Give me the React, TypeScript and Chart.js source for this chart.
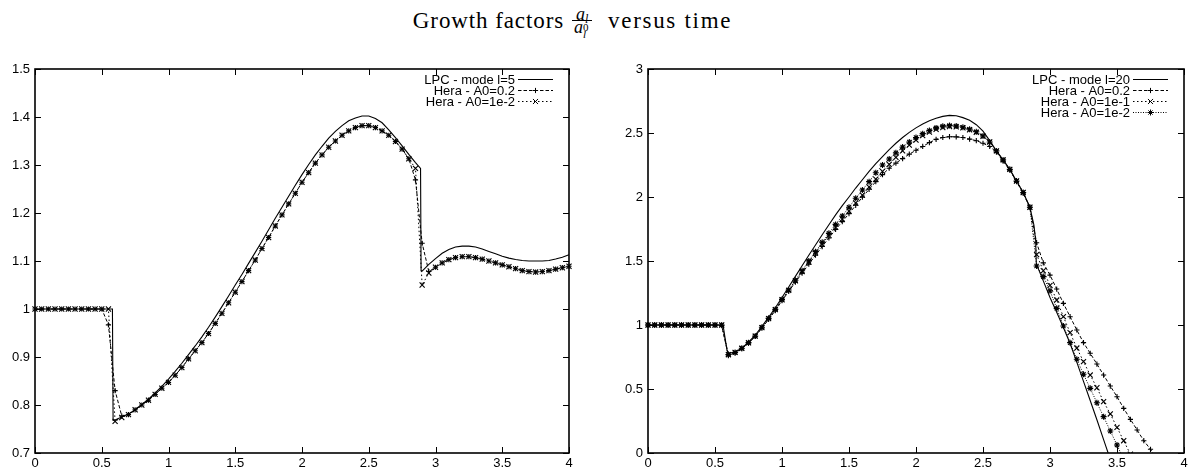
import React, { useEffect, useRef } from "react";
import { Chart, registerables } from "chart.js";

Chart.register(...registerables);

// ---------- data ----------
// common time grid of the Hera samples
const heraT = [
  0, 0.05, 0.1, 0.15, 0.2, 0.25, 0.3, 0.35, 0.4, 0.45, 0.5, 0.55, 0.6, 0.65, 0.7, 0.75, 0.8, 0.85, 0.9, 0.95,
  1, 1.05, 1.1, 1.15, 1.2, 1.25, 1.3, 1.35, 1.4, 1.45, 1.5, 1.55, 1.6, 1.65, 1.7, 1.75, 1.8, 1.85, 1.9, 1.95,
  2, 2.05, 2.1, 2.15, 2.2, 2.25, 2.3, 2.35, 2.4, 2.45, 2.5, 2.55, 2.6, 2.65, 2.7, 2.75, 2.8, 2.85, 2.9, 2.95,
  3, 3.05, 3.1, 3.15, 3.2, 3.25, 3.3, 3.35, 3.4, 3.45, 3.5, 3.55, 3.6, 3.65, 3.7, 3.75, 3.8, 3.85, 3.9, 3.95, 4,
];

// left panel: mode l=5
const leftLpcT = [
  0, 0.58, 0.585, 0.6, 0.65, 0.7, 0.75, 0.8, 0.85, 0.9, 0.95,
  1, 1.05, 1.1, 1.15, 1.2, 1.25, 1.3, 1.35, 1.4, 1.45, 1.5, 1.55, 1.6, 1.65, 1.7, 1.75, 1.8, 1.85, 1.9, 1.95,
  2, 2.05, 2.1, 2.15, 2.2, 2.25, 2.3, 2.35, 2.4, 2.45, 2.5, 2.55, 2.6, 2.65, 2.7, 2.75, 2.8, 2.85, 2.888, 2.892, 2.9, 2.95,
  3, 3.05, 3.1, 3.15, 3.2, 3.25, 3.3, 3.35, 3.4, 3.45, 3.5, 3.55, 3.6, 3.65, 3.7, 3.75, 3.8, 3.85, 3.9, 3.95, 4,
];
const leftLpcY = [
  1, 1, 0.768, 0.769, 0.775, 0.781, 0.79, 0.801, 0.812, 0.825, 0.839,
  0.854, 0.87, 0.887, 0.905, 0.923, 0.942, 0.962, 0.983, 1.005, 1.027, 1.05, 1.072, 1.095, 1.118, 1.141, 1.165, 1.189, 1.212, 1.235, 1.258,
  1.28, 1.301, 1.321, 1.339, 1.356, 1.37, 1.382, 1.392, 1.398, 1.402, 1.402, 1.397, 1.388, 1.373, 1.357, 1.34, 1.322, 1.305, 1.293, 1.08, 1.079, 1.093,
  1.105, 1.116, 1.124, 1.129, 1.131, 1.131, 1.129, 1.125, 1.12, 1.115, 1.11, 1.106, 1.103, 1.101, 1.1, 1.1, 1.1, 1.101, 1.104, 1.108, 1.113,
];
const leftHera02 = [
  1, 1, 1, 1, 1, 1, 1, 1, 1, 1, 1, 0.967, 0.83, 0.777, 0.78, 0.79, 0.8, 0.81, 0.822, 0.835,
  0.847, 0.862, 0.878, 0.896, 0.913, 0.93, 0.949, 0.97, 0.991, 1.013, 1.035, 1.057, 1.08, 1.102, 1.126, 1.149, 1.173, 1.196, 1.219, 1.241,
  1.264, 1.284, 1.304, 1.321, 1.337, 1.35, 1.362, 1.371, 1.378, 1.382, 1.382, 1.378, 1.371, 1.362, 1.349, 1.333, 1.313, 1.269, 1.137, 1.078,
  1.087, 1.096, 1.103, 1.107, 1.109, 1.109, 1.107, 1.104, 1.1, 1.096, 1.092, 1.088, 1.084, 1.08, 1.078, 1.077, 1.078, 1.08, 1.083, 1.086, 1.089,
];
const leftHera1em2 = [
  1, 1, 1, 1, 1, 1, 1, 1, 1, 1, 1, 1, 0.766, 0.774, 0.78, 0.79, 0.8, 0.81, 0.822, 0.835,
  0.847, 0.862, 0.878, 0.896, 0.913, 0.93, 0.949, 0.97, 0.991, 1.013, 1.035, 1.057, 1.08, 1.102, 1.126, 1.149, 1.173, 1.196, 1.219, 1.241,
  1.264, 1.284, 1.304, 1.321, 1.337, 1.35, 1.362, 1.371, 1.378, 1.382, 1.382, 1.378, 1.371, 1.362, 1.349, 1.333, 1.313, 1.293, 1.05, 1.075,
  1.087, 1.096, 1.103, 1.107, 1.109, 1.109, 1.107, 1.104, 1.1, 1.096, 1.092, 1.088, 1.084, 1.08, 1.078, 1.077, 1.078, 1.08, 1.083, 1.086, 1.089,
];
const leftLabels = ["LPC - mode l=5", "Hera - A0=0.2", "Hera - A0=1e-2"];

// right panel: mode l=20
const rightLpcT = [
  0, 0.56, 0.575, 0.59, 0.6, 0.65, 0.7, 0.75, 0.8, 0.85, 0.9, 0.95,
  1, 1.05, 1.1, 1.15, 1.2, 1.25, 1.3, 1.35, 1.4, 1.45, 1.5, 1.55, 1.6, 1.65, 1.7, 1.75, 1.8, 1.85, 1.9, 1.95,
  2, 2.05, 2.1, 2.15, 2.2, 2.25, 2.3, 2.35, 2.4, 2.45, 2.5, 2.55, 2.6, 2.65, 2.7, 2.75, 2.8, 2.85, 2.88, 2.893, 2.898, 2.95,
  3, 3.05, 3.1, 3.15, 3.2, 3.25, 3.3, 3.35, 3.4, 3.45,
];
const rightLpcY = [
  1, 1, 0.9, 0.8, 0.78, 0.787, 0.82, 0.866, 0.92, 0.99, 1.06, 1.135,
  1.215, 1.297, 1.38, 1.463, 1.545, 1.625, 1.705, 1.783, 1.86, 1.932, 2.0, 2.07, 2.135, 2.2, 2.26, 2.315, 2.37, 2.42, 2.465, 2.505,
  2.54, 2.57, 2.595, 2.615, 2.63, 2.638, 2.635, 2.62, 2.6, 2.565, 2.515, 2.44, 2.36, 2.29, 2.216, 2.125, 2.035, 1.92, 1.78, 1.66, 1.477, 1.345,
  1.215, 1.1, 0.98, 0.855, 0.71, 0.56, 0.41, 0.26, 0.105, -0.05,
];
const rightHera02 = [
  1, 1, 1, 1, 1, 1, 1, 1, 1, 1, 1, 0.995, 0.76, 0.783, 0.815, 0.858, 0.91, 0.975, 1.043, 1.112,
  1.19, 1.262, 1.335, 1.405, 1.475, 1.545, 1.613, 1.68, 1.746, 1.808,
  1.87, 1.935, 1.998, 2.06, 2.12, 2.175, 2.225, 2.265, 2.3, 2.335,
  2.365, 2.395, 2.425, 2.45, 2.465, 2.471, 2.47, 2.465, 2.452, 2.44,
  2.42, 2.395, 2.35, 2.28, 2.21, 2.12, 2.03, 1.92, 1.643, 1.485,
  1.39, 1.281, 1.169, 1.065, 0.961, 0.862, 0.779, 0.695, 0.609, 0.523,
  0.44, 0.349, 0.263, 0.18, 0.096, 0.029, -0.05,
];
const rightHera1em1 = [
  1, 1, 1, 1, 1, 1, 1, 1, 1, 1, 1, 1, 0.768, 0.786, 0.818, 0.861, 0.913, 0.98, 1.05, 1.12,
  1.197, 1.27, 1.345, 1.418, 1.492, 1.563, 1.633, 1.7, 1.765, 1.828,
  1.89, 1.953, 2.015, 2.078, 2.14, 2.2, 2.255, 2.31, 2.36, 2.405,
  2.445, 2.48, 2.507, 2.528, 2.543, 2.55, 2.548, 2.54, 2.525, 2.505,
  2.475, 2.43, 2.36, 2.29, 2.216, 2.125, 2.035, 1.92, 1.55, 1.424,
  1.31, 1.195, 1.065, 0.94, 0.82, 0.714, 0.609, 0.51, 0.401, 0.305,
  0.2, 0.096, -0.01,
];
const rightHera1em2 = [
  1, 1, 1, 1, 1, 1, 1, 1, 1, 1, 1, 1, 0.77, 0.786, 0.818, 0.862, 0.914, 0.982, 1.052, 1.122,
  1.2, 1.273, 1.35, 1.424, 1.5, 1.573, 1.646, 1.716, 1.786, 1.852,
  1.92, 1.99, 2.055, 2.12, 2.19, 2.25, 2.297, 2.345, 2.39, 2.43,
  2.465, 2.495, 2.52, 2.54, 2.553, 2.558, 2.555, 2.545, 2.53, 2.51,
  2.477, 2.43, 2.36, 2.29, 2.216, 2.125, 2.035, 1.92, 1.461, 1.378,
  1.268, 1.13, 0.992, 0.862, 0.732, 0.615, 0.505, 0.393, 0.284, 0.172,
  0.0625, -0.05,
];
const rightLabels = ["LPC - mode l=20", "Hera - A0=0.2", "Hera - A0=1e-1", "Hera - A0=1e-2"];

const xTickStep = 0.5;
const leftYRange = [0.7, 1.5, 0.1];
const rightYRange = [0, 3, 0.5];

// ---------- helpers ----------
const SANS = '"Liberation Sans", Arial, Helvetica, sans-serif';

function zip(ts: number[], ys: number[]) {
  return ys.map((y, i) => ({ x: ts[i], y }));
}

function fmt(v: number | string) {
  return String(Number(Number(v).toFixed(3)));
}

function drawMarker(ctx: CanvasRenderingContext2D, style: string, x: number, y: number, r: number) {
  ctx.beginPath();
  if (style === "cross" || style === "star") {
    ctx.moveTo(x - r, y);
    ctx.lineTo(x + r, y);
    ctx.moveTo(x, y - r);
    ctx.lineTo(x, y + r);
  }
  if (style === "crossRot" || style === "star") {
    const d = r * Math.SQRT1_2;
    ctx.moveTo(x - d, y - d);
    ctx.lineTo(x + d, y + d);
    ctx.moveTo(x - d, y + d);
    ctx.lineTo(x + d, y - d);
  }
  ctx.stroke();
}

const framePlugin = {
  id: "gpFrame",
  afterDatasetsDraw(chart: any) {
    const { ctx, chartArea: a, scales } = chart;
    const tl = 6;
    ctx.save();
    ctx.setLineDash([]);
    ctx.strokeStyle = "#000";
    ctx.lineWidth = 1;
    ctx.beginPath();
    scales.x.ticks.forEach((t: any) => {
      const px = Math.round(scales.x.getPixelForValue(t.value)) + 0.5;
      ctx.moveTo(px, a.bottom);
      ctx.lineTo(px, a.bottom - tl);
      ctx.moveTo(px, a.top);
      ctx.lineTo(px, a.top + tl);
    });
    scales.y.ticks.forEach((t: any) => {
      const py = Math.round(scales.y.getPixelForValue(t.value)) + 0.5;
      ctx.moveTo(a.left, py);
      ctx.lineTo(a.left + tl, py);
      ctx.moveTo(a.right, py);
      ctx.lineTo(a.right - tl, py);
    });
    ctx.stroke();
    ctx.lineWidth = 1.6;
    ctx.strokeRect(a.left, a.top, a.right - a.left, a.bottom - a.top);
    ctx.restore();
  },
};

const legendPlugin = {
  id: "gpLegend",
  afterDraw(chart: any) {
    const { ctx, chartArea: a } = chart;
    const sampleRight = a.right - 16;
    const sampleLeft = sampleRight - 35;
    ctx.save();
    ctx.font = `13px ${SANS}`;
    ctx.textAlign = "right";
    ctx.textBaseline = "middle";
    chart.data.datasets.forEach((ds: any, i: number) => {
      const y = a.top + 10.5 + i * 11;
      ctx.fillStyle = "#000";
      ctx.fillText(ds.label, sampleLeft - 3, y + 0.5);
      ctx.strokeStyle = "#000";
      ctx.lineWidth = 1;
      ctx.setLineDash(ds.borderDash || []);
      ctx.beginPath();
      ctx.moveTo(sampleLeft, y);
      ctx.lineTo(sampleRight, y);
      ctx.stroke();
      ctx.setLineDash([]);
      if (ds.pointRadius > 0) {
        drawMarker(ctx, ds.pointStyle, (sampleLeft + sampleRight) / 2, y, ds.pointRadius);
      }
    });
    ctx.restore();
  },
};

function lpcSet(label: string, data: any[]) {
  return {
    label,
    data,
    showLine: true,
    borderColor: "#000",
    borderWidth: 1.1,
    pointRadius: 0,
    tension: 0,
    clip: { left: 5, right: 5, top: 5, bottom: 0 },
  };
}

function heraSet(label: string, data: any[], dash: number[], style: string, r: number) {
  return {
    label,
    data,
    showLine: true,
    borderColor: "#000",
    borderWidth: 1,
    borderDash: dash,
    pointStyle: style,
    pointRadius: r,
    pointBorderColor: "#000",
    pointBackgroundColor: "transparent",
    pointBorderWidth: 1.1,
    tension: 0,
    clip: { left: 5, right: 5, top: 5, bottom: 0 },
  };
}

function makeConfig(datasets: any[], yr: number[], yWidth: number, rightPad: number) {
  const tickFont = { family: SANS, size: 13 };
  return {
    type: "scatter" as const,
    data: { datasets },
    options: {
      responsive: false,
      animation: false as const,
      events: [] as any[],
      layout: { padding: { top: 69, right: rightPad, bottom: 0, left: 0 } },
      plugins: { legend: { display: false }, tooltip: { enabled: false } },
      scales: {
        x: {
          type: "linear" as const,
          min: 0,
          max: 4,
          afterFit: (s: any) => {
            s.height = 17;
          },
          grid: { display: false, drawTicks: false },
          border: { display: false },
          ticks: { stepSize: xTickStep, padding: 3, color: "#000", font: tickFont, callback: fmt, autoSkip: false, maxRotation: 0 },
        },
        y: {
          type: "linear" as const,
          min: yr[0],
          max: yr[1],
          afterFit: (s: any) => {
            s.width = yWidth;
          },
          grid: { display: false, drawTicks: false },
          border: { display: false },
          ticks: { stepSize: yr[2], padding: 5, color: "#000", font: tickFont, callback: fmt, autoSkip: false },
        },
      },
    },
    plugins: [framePlugin, legendPlugin],
  };
}

export default function App() {
  const leftRef = useRef<HTMLCanvasElement>(null);
  const rightRef = useRef<HTMLCanvasElement>(null);

  useEffect(() => {
    const leftSets = [
      lpcSet(leftLabels[0], zip(leftLpcT, leftLpcY)),
      heraSet(leftLabels[1], zip(heraT, leftHera02), [3.5, 2], "cross", 2.6),
      heraSet(leftLabels[2], zip(heraT, leftHera1em2), [1.5, 2.5], "crossRot", 3.6),
    ];
    const rightSets = [
      lpcSet(rightLabels[0], zip(rightLpcT, rightLpcY)),
      heraSet(rightLabels[1], zip(heraT, rightHera02), [3.5, 2], "cross", 2.6),
      heraSet(rightLabels[2], zip(heraT, rightHera1em1), [1.5, 2.5], "crossRot", 3.6),
      heraSet(rightLabels[3], zip(heraT, rightHera1em2), [1, 1.5], "star", 3),
    ];
    const c1 = new Chart(leftRef.current as HTMLCanvasElement, makeConfig(leftSets, leftYRange, 35, 28) as any);
    const c2 = new Chart(rightRef.current as HTMLCanvasElement, makeConfig(rightSets, rightYRange, 51, 10) as any);
    return () => {
      c1.destroy();
      c2.destroy();
    };
  }, []);

  const serif = '"Liberation Serif", "DejaVu Serif", "Times New Roman", serif';

  return (
    <div style={{ position: "absolute", left: 0, top: 0, width: 1194, height: 470, background: "#fff", overflow: "hidden" }}>
      <div
        style={{
          position: "absolute",
          left: 0,
          top: 8,
          width: 1145,
          textAlign: "center",
          fontFamily: serif,
          fontSize: 23,
          letterSpacing: "0.9px",
          lineHeight: "26px",
          whiteSpace: "nowrap",
          color: "#000",
        }}
      >
        Growth factors
        <span style={{ display: "inline-block", verticalAlign: "-5px", textAlign: "center", margin: "0 16px 0 8px", letterSpacing: 0 }}>
          <span style={{ display: "block", fontSize: 18, lineHeight: "12px", height: 12, borderBottom: "1px solid #000", padding: "0 2px" }}>
            <i>a</i>
            <i style={{ fontSize: 12, position: "relative", top: 3 }}>l</i>
          </span>
          <span style={{ display: "block", fontSize: 18, lineHeight: "12px", height: 12, padding: "0 2px", textAlign: "left" }}>
            <i>a</i>
            <span style={{ position: "relative", display: "inline-block", width: 7, height: 0 }}>
              <span style={{ position: "absolute", left: 0, top: -11, fontSize: 11, lineHeight: "11px" }}>0</span>
              <i style={{ position: "absolute", left: 0, top: -4, fontSize: 11, lineHeight: "11px" }}>l</i>
            </span>
          </span>
        </span>
        <span style={{ letterSpacing: "1.7px" }}>versus time</span>
      </div>
      <canvas ref={leftRef} width={597} height={470} style={{ position: "absolute", left: 0, top: 0, width: 597, height: 470 }} />
      <canvas ref={rightRef} width={597} height={470} style={{ position: "absolute", left: 597, top: 0, width: 597, height: 470 }} />
    </div>
  );
}
